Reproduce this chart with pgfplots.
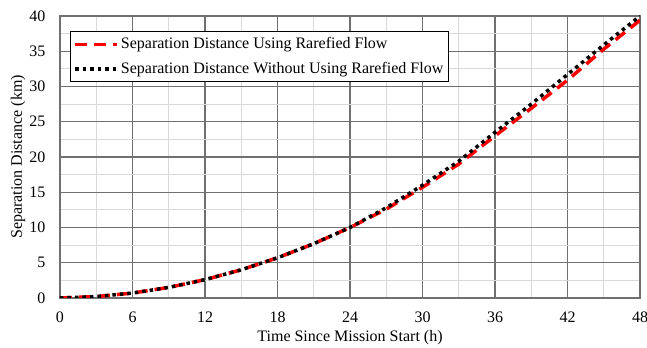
\documentclass[border=0pt]{standalone}
\usepackage{fontspec}
\setmainfont{Liberation Serif}
\usepackage{pgfplots}
\pgfplotsset{compat=1.18}
\usetikzlibrary{calc}
\definecolor{majgrid}{RGB}{112,112,112}
\definecolor{mingrid}{RGB}{217,217,217}
\begin{document}
\fontsize{16}{19}\selectfont
\begin{tikzpicture}
\begin{axis}[name=ax,
  width=580pt, height=282pt, scale only axis,
  xmin=0, xmax=48, ymin=0, ymax=40,
  xtick={0,6,...,48}, ytick={0,5,...,40},
  minor xtick={3,9,...,45}, minor ytick={2.5,7.5,...,37.5},
  grid=both,
  major grid style={draw=majgrid, line width=1.1pt},
  minor grid style={draw=mingrid, line width=1.1pt},
  axis line style={draw=majgrid, line width=1.1pt},
  major tick length=0pt, minor tick length=0pt,
  /pgf/number format/assume math mode=true,
  tick label style={font=\fontsize{16}{19}\selectfont},
  xticklabel style={yshift=-8pt},
  yticklabel style={xshift=-9pt},
  xlabel={Time Since Mission Start (h)},
  ylabel={Separation Distance (km)},
  label style={font=\fontsize{16}{19}\selectfont},
  xlabel style={at={(axis description cs:0.5,-0.142)}, anchor=center},
  ylabel style={at={(axis description cs:-0.0724,0.5)}, anchor=center, rotate=0},
  legend style={at={(axis description cs:0.017,0.947)}, anchor=north west,
    draw=black, line width=1.1pt, font=\fontsize{16}{19}\selectfont,
    inner xsep=3pt, inner ysep=4pt, row sep=7pt, fill=white},
  legend cell align=left,
  legend image code/.code={\draw[#1] (0pt,0pt) -- (42pt,0pt);},
]
\addplot[red, line width=3.5pt, dash pattern=on 12pt off 7pt] coordinates {
(0,0) (3,0.2) (6,0.7) (9,1.5) (12,2.6) (15,4.0) (18,5.7) (21,7.7) (24,10.0)
(27,12.6) (30,15.7) (33,19.0) (36,23.0) (39,26.9) (42,30.9) (45,35.3) (48,39.4)};
\addlegendentry{Separation Distance Using Rarefied Flow}
\addplot[black, line width=3.5pt, dash pattern=on 3.5pt off 4pt] coordinates {
(0,0) (3,0.2) (6,0.7) (9,1.5) (12,2.6) (15,4.0) (18,5.7) (21,7.7) (24,10.0)
(27,12.8) (30,16.0) (33,19.4) (36,23.5) (39,27.5) (42,31.7) (45,35.9) (48,40.0)};
\addlegendentry{Separation Distance Without Using Rarefied Flow}
\end{axis}
\pgfresetboundingbox
\path[use as bounding box] ($(ax.south west)+(-60pt,-50pt)$) rectangle ($(ax.north east)+(7pt,16pt)$);
\end{tikzpicture}
\end{document}
